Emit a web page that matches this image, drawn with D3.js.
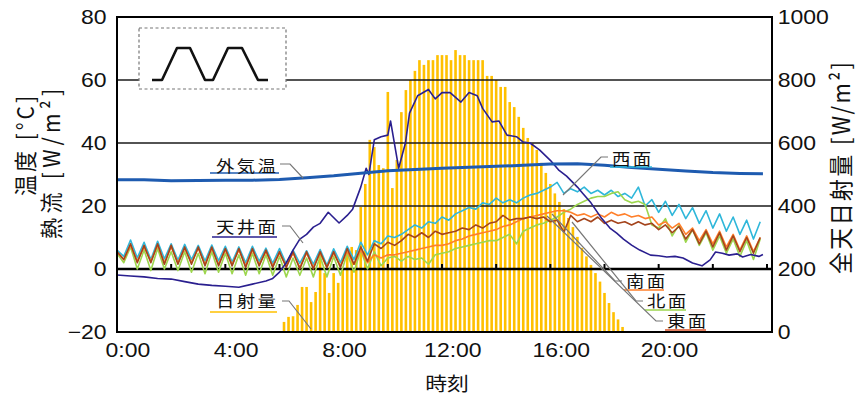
<!DOCTYPE html>
<html>
<head>
<meta charset="utf-8">
<script src="https://cdn.jsdelivr.net/npm/d3@7"></script>
<style>
  body { margin: 0; background: #fff; }
  svg { display: block; }
  .num { font-family: "Liberation Sans", Arial, sans-serif; font-size: 20px; fill: #111; }
  .jp { font-family: "Noto Sans CJK JP", sans-serif; fill: #111; }
</style>
</head>
<body>
<svg id="chart" width="857" height="400"></svg>
<script>
// ---- data -------------------------------------------------------------
// surface heat flux [W/m2], every 15 minutes from 0:00 to 23:45
const surfaceHours = d3.range(96).map(i => i / 4);

const westSurface = [
  6.0, 4.0, 9.2, 3.5, 8.5, 3.0, 8.8, 3.2,
  8.0, 2.8, 7.8, 3.0, 7.5, 2.5, 7.6, 2.6,
  7.2, 2.2, 7.0, 2.0, 7.2, 2.4, 6.6, 1.8,
  6.5, 1.6, 6.0, 1.8, 5.8, 1.5, 6.2, 1.2,
  6.4, 2.0, 7.2, 3.0, 8.5, 4.5, 9.0, 8.0,
  10.5, 10.0, 11.0, 12.5, 14.0, 13.0, 15.0, 14.5,
  16.5, 15.5, 17.5, 18.5, 19.5, 19.0, 21.0, 20.5,
  22.5, 21.0, 22.0, 21.0, 22.5, 23.5, 24.0, 25.0,
  26.0, 27.5, 24.0, 25.5, 24.5, 26.0, 24.0, 25.0,
  23.5, 25.0, 23.0, 24.0, 22.5, 26.0, 20.0, 22.0,
  18.0, 21.5, 17.0, 20.5, 16.0, 19.5, 14.5, 18.5,
  13.0, 17.5, 12.0, 16.5, 11.0, 15.5, 9.5, 15.0
];

const northSurface = [
  5.0, 2.0, 7.0, 0.0, 6.0, -0.5, 6.5, 0.0,
  5.5, -0.5, 5.5, -1.0, 5.0, -1.5, 5.5, -1.0,
  5.0, -1.5, 4.5, -2.0, 5.0, -1.5, 4.5, -2.0,
  4.0, -2.5, 3.5, -2.0, 3.5, -2.5, 4.0, -2.5,
  4.0, -2.0, 5.0, -1.0, 6.0, 0.0, 5.5, 1.0,
  3.5, 4.0, 2.5, 4.0, 3.0, 3.5, 1.5, 4.5,
  5.0, 5.5, 6.5, 7.0, 7.5, 8.0, 8.5, 9.0,
  9.0, 10.0, 11.0, 8.0, 12.0, 13.0, 14.0, 14.5,
  15.5, 16.5, 18.0, 19.0, 20.5, 21.5, 22.5, 23.0,
  23.0, 24.0, 24.5, 22.0, 21.0, 21.5, 20.5, 14.0,
  13.0, 16.0, 10.5, 14.0, 8.5, 12.5, 7.5, 11.5,
  6.0, 10.5, 5.0, 9.5, 4.0, 9.0, 3.0, 9.5
];

const southSurface = [
  5.5, 3.0, 7.5, 2.5, 7.0, 2.5, 7.5, 2.0,
  7.0, 2.0, 6.5, 2.0, 6.5, 1.5, 6.5, 1.5,
  6.0, 1.5, 6.0, 1.0, 6.0, 1.5, 5.5, 1.0,
  5.0, 1.0, 5.0, 0.5, 5.0, 0.5, 5.0, 0.5,
  5.0, 1.0, 5.5, 1.5, 6.0, 2.0, 4.5, 3.5,
  4.5, 4.5, 5.0, 5.5, 6.0, 6.5, 7.0, 7.5,
  7.5, 8.0, 9.0, 9.5, 10.5, 11.0, 11.5, 12.0,
  12.5, 13.5, 14.0, 15.0, 16.0, 16.5, 17.0, 17.5,
  18.0, 18.5, 18.5, 18.0, 17.0, 17.5, 16.5, 17.5,
  16.5, 18.0, 17.0, 17.5, 16.5, 17.0, 16.0, 16.5,
  14.0, 15.0, 13.0, 14.5, 11.0, 13.0, 9.0, 12.5,
  8.0, 12.0, 7.0, 11.0, 6.0, 10.5, 5.5, 10.0
];

const eastSurface = [
  5.5, 3.0, 8.0, 2.0, 7.5, 2.0, 8.0, 1.5,
  7.5, 1.5, 7.0, 1.5, 7.0, 1.0, 7.0, 1.0,
  6.5, 1.0, 6.5, 0.5, 6.5, 1.0, 6.0, 0.5,
  5.5, 0.5, 5.5, 0.0, 5.5, 0.0, 5.5, 0.5,
  5.5, 0.5, 6.5, 1.5, 7.0, 2.5, 8.0, 6.5,
  8.5, 7.5, 9.0, 11.0, 10.0, 11.5, 10.0, 12.0,
  11.0, 11.5, 12.0, 13.0, 12.5, 14.0, 13.0, 14.5,
  15.0, 17.0, 15.5, 16.0, 16.0, 16.5, 16.0, 16.5,
  15.0, 15.5, 11.7, 17.0, 15.0, 16.0, 15.0, 16.5,
  14.5, 15.5, 14.5, 15.0, 14.0, 15.0, 14.0, 14.5,
  12.5, 14.0, 11.5, 13.5, 9.5, 12.5, 8.0, 12.0,
  7.0, 11.5, 6.0, 10.5, 5.5, 10.0, 5.0, 10.0
];

// ceiling heat flux [W/m2]
const ceilingHours = [
  0, 0.5, 1, 1.5, 2, 2.5, 3, 3.5, 4, 4.5, 5, 5.5, 5.75, 6, 6.25, 6.5, 6.75,
  7, 7.25, 7.5, 7.8, 8.2, 8.5, 8.7, 9.0, 9.2, 9.3, 9.5, 9.75, 10.0, 10.1,
  10.4, 10.65, 10.8, 11.1, 11.5, 11.75, 12.0, 12.3, 12.7, 13.0, 13.3, 13.5,
  13.85, 14.1, 14.4, 14.75, 15.0, 15.25, 15.6, 16.0, 16.3, 16.6, 17.0, 17.2,
  17.5, 17.9, 18.2, 18.45, 18.7, 19.0, 19.3, 19.7, 20.0, 20.3, 20.6, 20.9,
  21.25, 21.6, 21.9, 22.1, 22.35, 22.6, 22.9, 23.1, 23.4, 23.7, 23.85
];
const ceiling = [
  -1.9, -2.2, -2.5, -3.0, -3.2, -4.0, -4.8, -5.2, -5.5, -5.8, -4.8, -3.8, -3.0, -1.0, 2.0, 6.0, 9.5,
  11.0, 13.3, 14.5, 18.0, 14.6, 17.0, 19.0, 26.0, 32.0, 30.0, 41.0, 42.0, 42.5, 47.0,
  32.0, 40.0, 49.5, 55.0, 57.0, 54.0, 56.0, 56.0, 53.0, 56.0, 55.0, 51.0,
  46.7, 47.0, 42.5, 42.0, 40.3, 40.0, 37.8, 34.5, 31.5, 29.5, 26.0, 24.0,
  21.0, 16.0, 13.0, 11.4, 9.5, 7.6, 6.0, 4.4, 4.2, 3.8, 4.0, 3.5,
  1.9, 1.0, 2.9, 5.4, 5.0, 4.4, 4.8, 3.8, 4.6, 4.0, 4.6
];

// outdoor air temperature [°C]
const outdoorHours = [0, 1, 2, 3, 4, 5, 6, 7, 8, 9, 10, 11, 12, 13, 14, 15, 16, 17, 18, 19, 20, 21, 22, 23, 23.85];
const outdoorTemp = [28.3, 28.3, 28.0, 28.1, 28.2, 28.2, 28.4, 29.0, 29.6, 30.4, 31.2, 31.6, 32.0, 32.3,
                     32.6, 32.9, 33.3, 33.4, 32.9, 32.2, 31.7, 31.1, 30.6, 30.3, 30.2];

// global horizontal solar radiation [W/m2], every 10 minutes from 6:10 to 18:40
const radiationHours = d3.range(76).map(i => 6 + (i + 1) / 6);
const radiation = [
  32, 48, 50, 86, 143,
  143, 95, 127, 251, 187, 124,
  187, 156, 197, 251, 270, 260,
  397, 470, 610, 587, 530, 520,
  762, 457, 546, 698, 768, 800,
  829, 863, 848, 863, 863, 879,
  879, 879, 863, 895, 879, 879,
  863, 863, 863, 863, 813, 813,
  800, 778, 778, 730, 714, 683,
  648, 616, 600, 578, 537, 505,
  470, 440, 413, 390, 362, 333,
  302, 267, 240, 213, 187, 160,
  124, 92, 63, 40, 16
];

const leftTicks = [-20, 0, 20, 40, 60, 80];
const rightTicks = [0, 200, 400, 600, 800, 1000];
const hourTicks = [0, 4, 8, 12, 16, 20];

// ---- layout -----------------------------------------------------------
const svg = d3.select("#chart");
const plot = { left: 117, right: 772, top: 17, bottom: 332 };
const x = d3.scaleLinear().domain([0, 24]).range([plot.left, 767]);
const yL = d3.scaleLinear().domain([-20, 80]).range([plot.bottom, plot.top]);
const yR = d3.scaleLinear().domain([0, 1000]).range([plot.bottom, plot.top]);
const stretch = 1.15;

// solar radiation bars (right axis)
svg.append("g").selectAll("rect").data(radiation).join("rect")
  .attr("x", (d, i) => x(radiationHours[i]) - 1.3)
  .attr("width", 2.6)
  .attr("y", d => yR(d))
  .attr("height", d => yR(0) - yR(d))
  .attr("fill", "#FFC000");

// horizontal grid
svg.append("g").selectAll("line").data([20, 40, 60]).join("line")
  .attr("x1", plot.left).attr("x2", plot.right)
  .attr("y1", d => yL(d)).attr("y2", d => yL(d))
  .attr("stroke", "#1a1a1a").attr("stroke-width", 1.6);

// zero line with small hour ticks
svg.append("line")
  .attr("x1", plot.left).attr("x2", plot.right)
  .attr("y1", yL(0)).attr("y2", yL(0))
  .attr("stroke", "#000").attr("stroke-width", 2.6);
svg.append("g").selectAll("line").data(d3.range(2, 25, 2)).join("line")
  .attr("x1", d => x(d)).attr("x2", d => x(d))
  .attr("y1", yL(0)).attr("y2", yL(0) - 5)
  .attr("stroke", "#000").attr("stroke-width", 2);

// series lines
const series = [
  { hours: surfaceHours, values: westSurface, color: "#2FB7DA", width: 1.6 },
  { hours: surfaceHours, values: northSurface, color: "#9DD64E", width: 1.6 },
  { hours: surfaceHours, values: southSurface, color: "#FF7F2A", width: 1.6 },
  { hours: surfaceHours, values: eastSurface, color: "#A4441C", width: 1.6 },
  { hours: ceilingHours, values: ceiling, color: "#2A1F8F", width: 1.6 },
  { hours: outdoorHours, values: outdoorTemp, color: "#1E5BB0", width: 3 }
];
const line = d3.line().x(d => x(d[0])).y(d => yL(d[1]));
series.forEach(s => {
  svg.append("path")
    .attr("d", line(s.values.map((v, i) => [s.hours[i], v])))
    .attr("fill", "none")
    .attr("stroke", s.color)
    .attr("stroke-width", s.width)
    .attr("stroke-linejoin", "round");
});

// frame
svg.append("rect")
  .attr("x", plot.left).attr("y", plot.top)
  .attr("width", plot.right - plot.left).attr("height", plot.bottom - plot.top)
  .attr("fill", "none").attr("stroke", "#000").attr("stroke-width", 2);

// axes
const axL = svg.append("g").attr("transform", `translate(${plot.left},0)`)
  .call(d3.axisLeft(yL).tickValues(leftTicks).tickSize(0).tickPadding(9));
const axR = svg.append("g").attr("transform", `translate(${plot.right},0)`)
  .call(d3.axisRight(yR).tickValues(rightTicks).tickFormat(d3.format("d")).tickSize(0).tickPadding(5));
const axB = svg.append("g").attr("transform", `translate(0,${plot.bottom})`)
  .call(d3.axisBottom(x).tickValues(hourTicks).tickFormat(h => h + ":00").tickSize(0).tickPadding(11));
[axL, axR, axB].forEach(a => {
  a.select(".domain").remove();
  a.selectAll("text").attr("class", "num").attr("fill", null)
    .attr("transform", `scale(${stretch},1)`);
});
axB.selectAll(".tick text").attr("dx", 9);

// operating schedule inset
const inset = svg.append("g");
inset.append("rect").attr("x", 139).attr("y", 28).attr("width", 147).attr("height", 61)
  .attr("fill", "#fff").attr("stroke", "#777").attr("stroke-width", 1.2).attr("stroke-dasharray", "3,2.5");
const wave = [[0, 1], [10, 1], [25, 0], [38, 0], [53, 1], [61, 1], [76, 0], [90, 0], [106, 1], [116, 1]];
inset.append("path")
  .attr("d", d3.line().x(p => 152 + p[0]).y(p => 48 + p[1] * 32)(wave))
  .attr("fill", "none").attr("stroke", "#111").attr("stroke-width", 2.6).attr("stroke-linejoin", "round");

// series labels with underline and leader
const labels = [
  { text: "外気温", x: 216, y: 165, ul: [210, 279, 173], color: "#1E5BB0", leader: [[280, 164], [290, 164], [303, 178]] },
  { text: "天井面", x: 216, y: 226, ul: [212, 277, 237], color: "#2A1F8F", leader: [[282, 226], [290, 226], [303, 243]] },
  { text: "日射量", x: 216, y: 300, ul: [210, 277, 312], color: "#FFC000", leader: [[282, 301], [289, 301], [311, 329]] },
  { text: "西面", x: 612, y: 158, ul: [610, 652, 167], color: "#2FB7DA", leader: [[608, 157], [601, 157], [563, 195]] },
  { text: "南面", x: 626, y: 280, ul: [624, 664, 290], color: "#FF7F2A", leader: [[622, 281], [615, 281], [552, 214]] },
  { text: "北面", x: 647, y: 300, ul: [645, 686, 310], color: "#9DD64E", leader: [[643, 301], [636, 301], [572, 222]] },
  { text: "東面", x: 667, y: 320, ul: [665, 706, 330], color: "#D9532A", leader: [[663, 321], [656, 321], [547, 216]] }
];
labels.forEach(l => {
  svg.append("path").attr("d", d3.line()(l.leader))
    .attr("fill", "none").attr("stroke", "#777").attr("stroke-width", 1.2);
  svg.append("line").attr("x1", l.ul[0]).attr("x2", l.ul[1]).attr("y1", l.ul[2]).attr("y2", l.ul[2])
    .attr("stroke", l.color).attr("stroke-width", 1.3);
  svg.append("text").attr("class", "jp")
    .attr("transform", `translate(${l.x},${l.y}) scale(${stretch},1)`)
    .attr("dominant-baseline", "central")
    .attr("font-size", 16).attr("letter-spacing", 2)
    .text(l.text);
});

// axis titles
svg.append("text").attr("class", "jp").attr("font-size", 19)
  .attr("transform", `translate(447,383) scale(${stretch},1)`)
  .attr("text-anchor", "middle").attr("dominant-baseline", "central").text("時刻");
const vTitles = [
  { text: "温度 [°C]", x: 24, y: 146, len: 100, size: 21 },
  { text: "熱流 [W/m²]", x: 50, y: 164, len: 150, size: 21 },
  { text: "全天日射量 [W/m²]", x: 840, y: 168, len: 212, size: 22 }
];
vTitles.forEach(t => {
  svg.append("text").attr("class", "jp").attr("font-size", t.size)
    .attr("transform", `translate(${t.x},${t.y}) scale(1.1,1) rotate(-90)`)
    .attr("text-anchor", "middle").attr("dominant-baseline", "central")
    .attr("textLength", t.len).attr("lengthAdjust", "spacing")
    .text(t.text);
});
</script>
</body>
</html>
